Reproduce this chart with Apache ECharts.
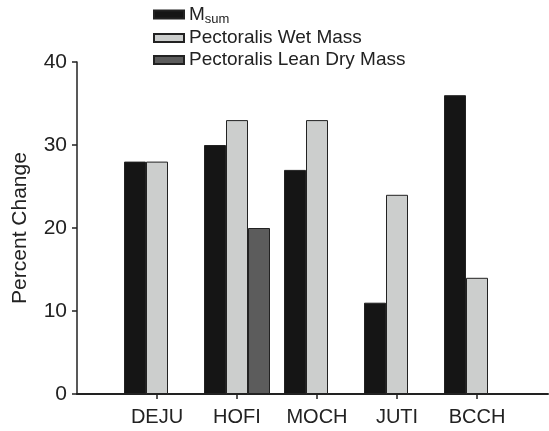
<!DOCTYPE html>
<html>
<head>
<meta charset="utf-8">
<script src="https://cdn.jsdelivr.net/npm/echarts@6/dist/echarts.min.js"></script>
<style>html,body{margin:0;padding:0;background:#fff}#c{width:549px;height:431px}</style>
</head>
<body>
<div id="c"></div>
<script>
const categories = ['DEJU', 'HOFI', 'MOCH', 'JUTI', 'BCCH'];
const msum = [28, 30, 27, 11, 36];
const wetMass = [28, 33, 33, 24, 14];
const leanDryMass = [null, 20, null, null, null];
const seriesNames = ['Msum', 'Pectoralis Wet Mass', 'Pectoralis Lean Dry Mass'];
const yTicks = [0, 10, 20, 30, 40];

const FONT = '"Liberation Sans", Arial, Helvetica, sans-serif';
const chart = echarts.init(document.getElementById('c'), null, {renderer: 'canvas'});
const colors = ['#151515', '#cccecd', '#5c5c5c'];
const dataSets = [msum, wetMass, leanDryMass];

chart.setOption({
  animation: false,
  textStyle: {fontFamily: FONT, color: '#222'},
  legend: {
    orient: 'vertical',
    left: 148,
    top: 0,
    itemWidth: 30,
    itemHeight: 8,
    itemGap: 3,
    icon: 'rect',
    data: seriesNames,
    textStyle: {
      fontFamily: FONT, fontSize: 19, color: '#222',
      rich: {
        m: {fontFamily: FONT, fontSize: 19, color: '#222'},
        s: {fontFamily: FONT, fontSize: 13, color: '#222', verticalAlign: 'bottom', padding: [9, 0, 0, 0]}
      }
    },
    formatter: function (n) { return n === 'Msum' ? '{m|M}{s|sum}' : n; }
  },
  grid: [
    {left: 117, width: 400, top: 62, bottom: 37},
    {left: 77, right: 1, top: 62, bottom: 37}
  ],
  xAxis: [
    {
      type: 'category', gridIndex: 0, data: categories,
      axisLine: {show: false},
      axisTick: {show: true, alignWithLabel: true, length: 5, lineStyle: {color: '#222', width: 1.5}},
      axisLabel: {fontFamily: FONT, fontSize: 20, color: '#222', margin: 13}
    },
    {
      type: 'value', gridIndex: 1, min: 0, max: 1,
      axisLine: {show: true, lineStyle: {color: '#222', width: 2}},
      axisTick: {show: false}, axisLabel: {show: false}, splitLine: {show: false}
    }
  ],
  yAxis: [
    {type: 'value', gridIndex: 0, min: 0, max: 40, show: false},
    {
      type: 'value', gridIndex: 1, min: yTicks[0], max: yTicks[yTicks.length - 1], interval: 10,
      name: 'Percent Change', nameLocation: 'middle', nameGap: 46,
      nameTextStyle: {fontFamily: FONT, fontSize: 21, color: '#222'},
      axisLine: {show: true, lineStyle: {color: '#222', width: 1.5}},
      axisTick: {show: true, length: 5, lineStyle: {color: '#222', width: 1.5}},
      axisLabel: {fontFamily: FONT, fontSize: 21, color: '#222', margin: 10},
      splitLine: {show: false}
    }
  ],
  series: seriesNames.map((n, i) => ({
    name: n, type: 'bar', xAxisIndex: 0, yAxisIndex: 0,
    data: dataSets[i], barWidth: 22, barGap: '0%',
    itemStyle: {color: colors[i], borderColor: '#222', borderWidth: 1}
  }))
});
</script>
</body>
</html>
